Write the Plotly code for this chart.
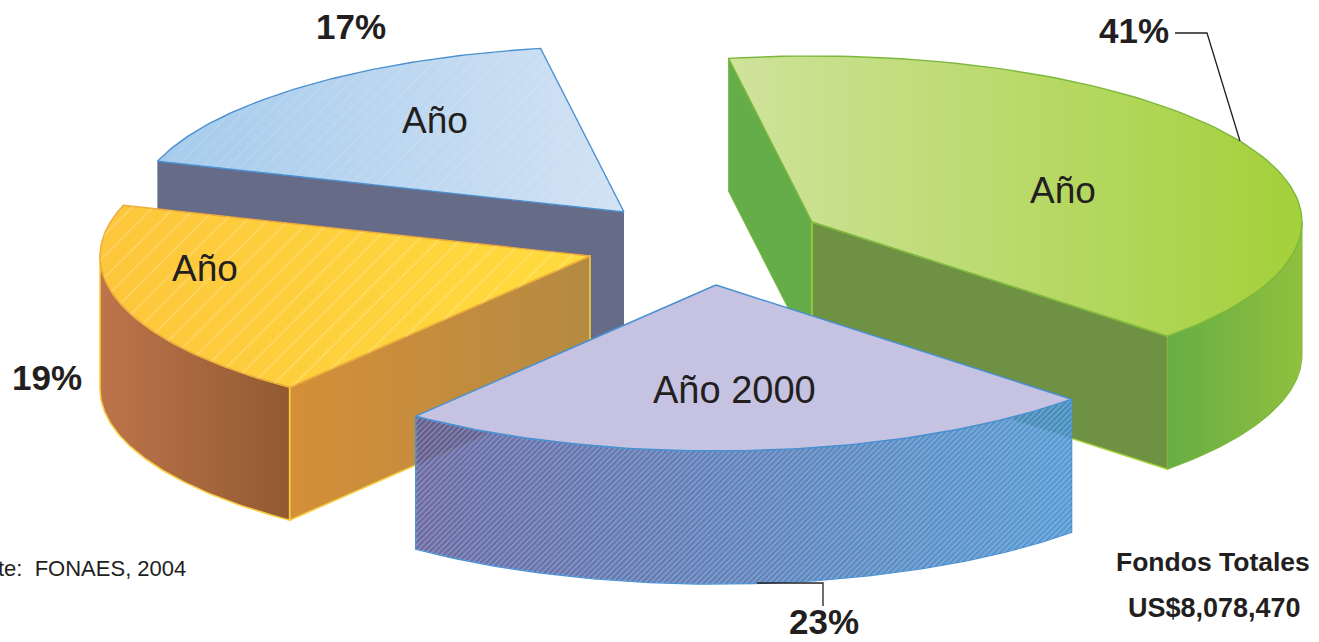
import math
import plotly.graph_objects as go

# ---- data ----
slice_names = ["Año", "Año 2000", "Año", "Año"]
pct_labels = ["41%", "23%", "19%", "17%"]
# angular share of each drawn wedge, percent of the full turn
drawn_share = [39.8, 23.42, 19.44, 17.34]
total_title = "Fondos Totales"
total_value = "US$8,078,470"
source_text = "te:  FONAES, 2004"

# ---- layout of the exploded pie (pixel-scale axes) ----
W, H = 1319, 642
RX, RY, DEPTH = 490, 166, 133
START = -99.8
APEX = [(812, 222), (716, 285), (590, 256), (624, 212)]

angles = []
a = START
for s in drawn_share:
    b = a + s * 3.6
    angles.append((a, b))
    a = b


def arc(i, t0, t1, dy=0, n=90):
    cx, cy = APEX[i]
    xs, ys = [], []
    for k in range(n + 1):
        t = math.radians(t0 + (t1 - t0) * k / n)
        xs.append(cx + RX * math.cos(t))
        ys.append(cy + RY * math.sin(t) + dy)
    return xs, ys


def add_poly(fig, xs, ys, fill=None, grad=None, pattern=None, line=None, lw=1.2):
    kw = {}
    if grad:
        o, c0, c1, s0, s1 = grad
        kw["fillgradient"] = dict(type=o, start=s0, stop=s1,
                                  colorscale=[[0, c0], [1, c1]])
    elif pattern:
        kw["fillpattern"] = pattern
    else:
        kw["fillcolor"] = fill
    fig.add_trace(go.Scatter(
        x=list(xs) + [xs[0]], y=list(ys) + [ys[0]], mode="lines", fill="toself",
        line=dict(color=line or "rgba(0,0,0,0)", width=lw if line else 0),
        hoverinfo="skip", showlegend=False, **kw))


def wedge_top(i):
    a0, a1 = angles[i]
    xs, ys = arc(i, a0, a1)
    return [APEX[i][0]] + xs, [APEX[i][1]] + ys


def extrude(x0, y0, x1, y1):
    return [x0, x1, x1, x0], [y0, y1, y1 + DEPTH, y0 + DEPTH]


def side(i, t0, t1):
    xs, ys = arc(i, t0, t1)
    xb, yb = arc(i, t0, t1, DEPTH)
    return xs + xb[::-1], ys + yb[::-1]


def edge_pt(i, t):
    xs, ys = arc(i, t, t, n=1)
    return xs[0], ys[0]


fig = go.Figure()
GREEN, LAV, ORANGE, BLUE = 0, 1, 2, 3

# --- blue wedge (back) ---
ex, ey = edge_pt(BLUE, angles[BLUE][0])
px, py = extrude(ex, ey, *APEX[BLUE])
add_poly(fig, px, py, fill="#666b87")
tx, ty = wedge_top(BLUE)
add_poly(fig, tx, ty, grad=("horizontal", "#a5cbec", "#d2e2f4", 157, 624),
         line="#4a90d0", lw=1.4)
add_poly(fig, tx, ty, pattern=dict(shape="/", size=9, solidity=0.12,
                                   fgcolor="rgba(255,255,255,0.3)",
                                   bgcolor="rgba(0,0,0,0)", fillmode="overlay"))

# --- orange wedge ---
sx, sy = side(ORANGE, angles[ORANGE][0], 180)
add_poly(fig, sx, sy, grad=("horizontal", "#bd744a", "#935a32", 100, 288), line="#f7cf45", lw=1.6)
ex, ey = edge_pt(ORANGE, angles[ORANGE][0])
px, py = extrude(ex, ey, *APEX[ORANGE])
add_poly(fig, px, py, grad=("horizontal", "#d48f38", "#b48a42", 288, 590), line="#f7cf45", lw=1.6)
tx, ty = wedge_top(ORANGE)
add_poly(fig, tx, ty, grad=("horizontal", "#fdc63c", "#ffdc3e", 100, 590),
         line="#eeaa3a", lw=1.4)
add_poly(fig, tx, ty, pattern=dict(shape="/", size=15, solidity=0.09,
                                   fgcolor="rgba(255,240,190,0.8)",
                                   bgcolor="rgba(0,0,0,0)", fillmode="overlay"))

# --- green wedge ---
ex, ey = edge_pt(GREEN, angles[GREEN][0])
px, py = extrude(ex, ey, *APEX[GREEN])
add_poly(fig, px, py, fill="#64ad48", line="#7cbb40", lw=1)
ex, ey = edge_pt(GREEN, angles[GREEN][1])
px, py = extrude(APEX[GREEN][0], APEX[GREEN][1], ex, ey)
add_poly(fig, px, py, fill="#6e9143", line="#a8d23c", lw=1.4)
sx, sy = side(GREEN, 0, angles[GREEN][1])
add_poly(fig, sx, sy, grad=("horizontal", "#66ae44", "#90c03e", 1168, 1302), line="#7cb83e", lw=1)
tx, ty = wedge_top(GREEN)
add_poly(fig, tx, ty, grad=("horizontal", "#cfe39c", "#a4d03a", 728, 1302),
         line="#7cb83e", lw=1.4)

# --- lavender wedge (front), its rim is see-through ---
sx, sy = side(LAV, *angles[LAV])
add_poly(fig, sx, sy, grad=("horizontal", "rgba(84,84,150,0.88)", "rgba(60,140,205,0.88)", 416, 1073),
         line="#4a90d0", lw=1.5)
add_poly(fig, sx, sy, pattern=dict(shape="/", size=4, solidity=0.38,
                                   fgcolor="rgba(228,234,246,0.6)",
                                   bgcolor="rgba(0,0,0,0)", fillmode="overlay"))
tx, ty = wedge_top(LAV)
add_poly(fig, tx, ty, fill="#c5c3e1", line="#4a90d0", lw=1.5)

# --- leader lines ---
fig.add_trace(go.Scatter(x=[1175, 1207, 1240], y=[33, 33, 141], mode="lines",
                         line=dict(color="#231f20", width=1.3),
                         hoverinfo="skip", showlegend=False))
fig.add_trace(go.Scatter(x=[757, 823, 823], y=[583, 583, 606], mode="lines",
                         line=dict(color="#231f20", width=1.3),
                         hoverinfo="skip", showlegend=False))

TXT = "#231f20"
FONT = "Liberation Sans"


def note(x, y, text, size, bold=False, anchor="center", xshift=0):
    fig.add_annotation(x=x, y=y, text=f"<b>{text}</b>" if bold else text,
                       xref="x", yref="y", showarrow=False, xanchor=anchor,
                       yanchor="middle", xshift=xshift, borderpad=0,
                       font=dict(family=FONT, size=size, color=TXT))


name_pos = [(1063, 190), (734, 390), (205, 268), (435, 120)]
name_size = [37, 38, 37, 37]
for (x, y), nm, sz in zip(name_pos, slice_names, name_size):
    note(x, y, nm, sz)
pct_pos = [(1134, 30), (824, 621), (47, 377), (351, 26)]
for (x, y), p in zip(pct_pos, pct_labels):
    note(x, y, p, 35, bold=True)
note(1213, 562, total_title, 26.5, bold=True)
note(1214, 608, total_value, 27, bold=True)
note(0, 568, source_text, 22, anchor="left", xshift=-3)

fig.update_layout(
    width=W, height=H, margin=dict(l=0, r=0, t=0, b=0),
    paper_bgcolor="white", plot_bgcolor="white", showlegend=False,
    xaxis=dict(range=[0, W], visible=False, fixedrange=True),
    yaxis=dict(range=[H, 0], visible=False, fixedrange=True),
)
fig.write_html("out.html", config=dict(displayModeBar=False),
               post_script="document.body.style.margin='0';document.body.style.overflow='hidden';")
